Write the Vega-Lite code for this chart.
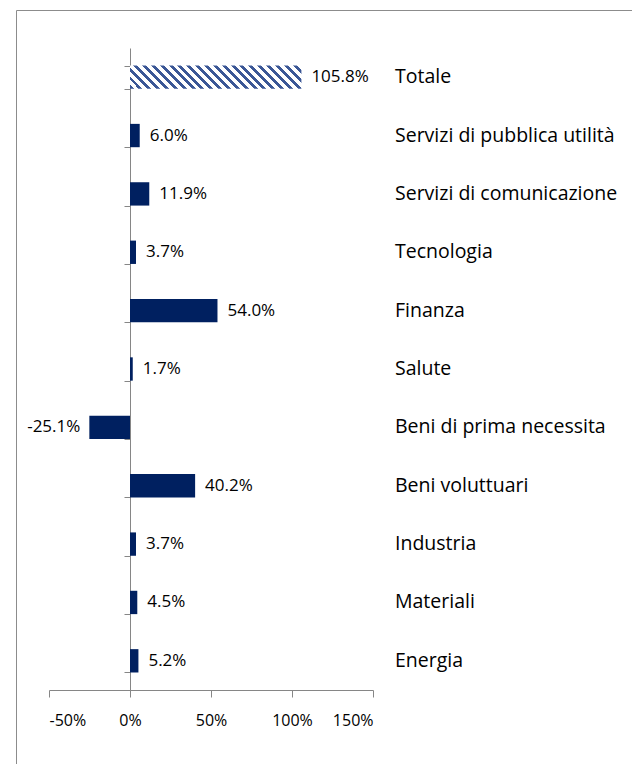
{
  "$schema": "https://vega.github.io/schema/vega-lite/v6.json",
  "autosize": {"type": "none"},
  "padding": {"left": 16, "top": 10, "right": 0, "bottom": 0},
  "width": 624,
  "height": 770,
  "background": "white",
  "config": {
    "view": {"stroke": "#8c8c8c", "strokeWidth": 1},
    "axis": {"domainColor": "#868686", "tickColor": "#868686", "grid": false, "labelColor": "#000000"},
    "locale": {"number": {"decimal": ".", "thousands": ",", "grouping": [3], "currency": ["", ""], "minus": "-"}}
  },
  "data": {
    "values": [
      {"cat": "Totale", "v": 1.058},
      {"cat": "Servizi di pubblica utilità", "v": 0.060},
      {"cat": "Servizi di comunicazione", "v": 0.119},
      {"cat": "Tecnologia", "v": 0.037},
      {"cat": "Finanza", "v": 0.540},
      {"cat": "Salute", "v": 0.017},
      {"cat": "Beni di prima necessita", "v": -0.251},
      {"cat": "Beni voluttuari", "v": 0.402},
      {"cat": "Industria", "v": 0.037},
      {"cat": "Materiali", "v": 0.045},
      {"cat": "Energia", "v": 0.052}
    ]
  },
  "encoding": {
    "y": {
      "field": "cat", "type": "nominal",
      "scale": {
        "domain": ["Totale", "Servizi di pubblica utilità", "Servizi di comunicazione", "Tecnologia", "Finanza", "Salute", "Beni di prima necessita", "Beni voluttuari", "Industria", "Materiali", "Energia"],
        "range": [38, 680], "paddingInner": 0.6, "paddingOuter": 0.3
      },
      "axis": {"orient": "left", "offset": -114, "labels": false, "ticks": true, "tickSize": 6, "tickBand": "extent", "domain": true, "title": null}
    }
  },
  "layer": [
    {
      "transform": [{"filter": "datum.cat !== 'Totale'"}],
      "mark": {"type": "bar", "color": "#002060"},
      "encoding": {
        "x": {
          "field": "v", "type": "quantitative",
          "scale": {"domain": [-0.5, 1.5], "range": [33, 357], "nice": false, "zero": false},
          "axis": {"orient": "bottom", "offset": -90, "values": [-0.5, 0, 0.5, 1, 1.5], "format": ".0%", "tickSize": 7, "labelPadding": 15, "labelFont": "Open Sans", "labelFontSize": 16, "title": null, "domain": true, "ticks": true}
        }
      }
    },
    {
      "transform": [{"filter": "datum.cat === 'Totale'"}],
      "mark": {
        "type": "bar",
        "fill": {
          "gradient": "linear", "x1": 0, "y1": 1, "x2": 1.1154, "y2": 0.8483,
          "stops": [
            {"offset": 0, "color": "#3b5796"}, {"offset": 0.02045, "color": "#3b5796"}, {"offset": 0.02045, "color": "#ffffff"}, {"offset": 0.04545, "color": "#ffffff"},
            {"offset": 0.04545, "color": "#3b5796"}, {"offset": 0.06591, "color": "#3b5796"}, {"offset": 0.06591, "color": "#ffffff"}, {"offset": 0.09091, "color": "#ffffff"},
            {"offset": 0.09091, "color": "#3b5796"}, {"offset": 0.11136, "color": "#3b5796"}, {"offset": 0.11136, "color": "#ffffff"}, {"offset": 0.13636, "color": "#ffffff"},
            {"offset": 0.13636, "color": "#3b5796"}, {"offset": 0.15682, "color": "#3b5796"}, {"offset": 0.15682, "color": "#ffffff"}, {"offset": 0.18182, "color": "#ffffff"},
            {"offset": 0.18182, "color": "#3b5796"}, {"offset": 0.20227, "color": "#3b5796"}, {"offset": 0.20227, "color": "#ffffff"}, {"offset": 0.22727, "color": "#ffffff"},
            {"offset": 0.22727, "color": "#3b5796"}, {"offset": 0.24773, "color": "#3b5796"}, {"offset": 0.24773, "color": "#ffffff"}, {"offset": 0.27273, "color": "#ffffff"},
            {"offset": 0.27273, "color": "#3b5796"}, {"offset": 0.29318, "color": "#3b5796"}, {"offset": 0.29318, "color": "#ffffff"}, {"offset": 0.31818, "color": "#ffffff"},
            {"offset": 0.31818, "color": "#3b5796"}, {"offset": 0.33864, "color": "#3b5796"}, {"offset": 0.33864, "color": "#ffffff"}, {"offset": 0.36364, "color": "#ffffff"},
            {"offset": 0.36364, "color": "#3b5796"}, {"offset": 0.38409, "color": "#3b5796"}, {"offset": 0.38409, "color": "#ffffff"}, {"offset": 0.40909, "color": "#ffffff"},
            {"offset": 0.40909, "color": "#3b5796"}, {"offset": 0.42955, "color": "#3b5796"}, {"offset": 0.42955, "color": "#ffffff"}, {"offset": 0.45455, "color": "#ffffff"},
            {"offset": 0.45455, "color": "#3b5796"}, {"offset": 0.475, "color": "#3b5796"}, {"offset": 0.475, "color": "#ffffff"}, {"offset": 0.5, "color": "#ffffff"},
            {"offset": 0.5, "color": "#3b5796"}, {"offset": 0.52045, "color": "#3b5796"}, {"offset": 0.52045, "color": "#ffffff"}, {"offset": 0.54545, "color": "#ffffff"},
            {"offset": 0.54545, "color": "#3b5796"}, {"offset": 0.56591, "color": "#3b5796"}, {"offset": 0.56591, "color": "#ffffff"}, {"offset": 0.59091, "color": "#ffffff"},
            {"offset": 0.59091, "color": "#3b5796"}, {"offset": 0.61136, "color": "#3b5796"}, {"offset": 0.61136, "color": "#ffffff"}, {"offset": 0.63636, "color": "#ffffff"},
            {"offset": 0.63636, "color": "#3b5796"}, {"offset": 0.65682, "color": "#3b5796"}, {"offset": 0.65682, "color": "#ffffff"}, {"offset": 0.68182, "color": "#ffffff"},
            {"offset": 0.68182, "color": "#3b5796"}, {"offset": 0.70227, "color": "#3b5796"}, {"offset": 0.70227, "color": "#ffffff"}, {"offset": 0.72727, "color": "#ffffff"},
            {"offset": 0.72727, "color": "#3b5796"}, {"offset": 0.74773, "color": "#3b5796"}, {"offset": 0.74773, "color": "#ffffff"}, {"offset": 0.77273, "color": "#ffffff"},
            {"offset": 0.77273, "color": "#3b5796"}, {"offset": 0.79318, "color": "#3b5796"}, {"offset": 0.79318, "color": "#ffffff"}, {"offset": 0.81818, "color": "#ffffff"},
            {"offset": 0.81818, "color": "#3b5796"}, {"offset": 0.83864, "color": "#3b5796"}, {"offset": 0.83864, "color": "#ffffff"}, {"offset": 0.86364, "color": "#ffffff"},
            {"offset": 0.86364, "color": "#3b5796"}, {"offset": 0.88409, "color": "#3b5796"}, {"offset": 0.88409, "color": "#ffffff"}, {"offset": 0.90909, "color": "#ffffff"},
            {"offset": 0.90909, "color": "#3b5796"}, {"offset": 0.92955, "color": "#3b5796"}, {"offset": 0.92955, "color": "#ffffff"}, {"offset": 0.95455, "color": "#ffffff"},
            {"offset": 0.95455, "color": "#3b5796"}, {"offset": 0.975, "color": "#3b5796"}, {"offset": 0.975, "color": "#ffffff"}, {"offset": 1, "color": "#ffffff"}
          ]
        }
      },
      "encoding": {
        "x": {"field": "v", "type": "quantitative"}
      }
    },
    {
      "transform": [{"filter": "datum.v >= 0"}],
      "mark": {"type": "text", "align": "left", "baseline": "middle", "dx": 10, "font": "Open Sans", "fontSize": 17, "color": "#000000"},
      "encoding": {
        "x": {"field": "v", "type": "quantitative"},
        "text": {"field": "v", "type": "quantitative", "format": ".1%"}
      }
    },
    {
      "transform": [{"filter": "datum.v < 0"}],
      "mark": {"type": "text", "align": "right", "baseline": "middle", "dx": -9, "font": "Open Sans", "fontSize": 17, "color": "#000000"},
      "encoding": {
        "x": {"field": "v", "type": "quantitative"},
        "text": {"field": "v", "type": "quantitative", "format": ".1%"}
      }
    },
    {
      "mark": {"type": "text", "align": "left", "baseline": "middle", "dx": 22, "font": "Open Sans", "fontSize": 19.5, "color": "#000000"},
      "encoding": {
        "x": {"datum": 1.5, "type": "quantitative"},
        "text": {"field": "cat", "type": "nominal"}
      }
    }
  ]
}
